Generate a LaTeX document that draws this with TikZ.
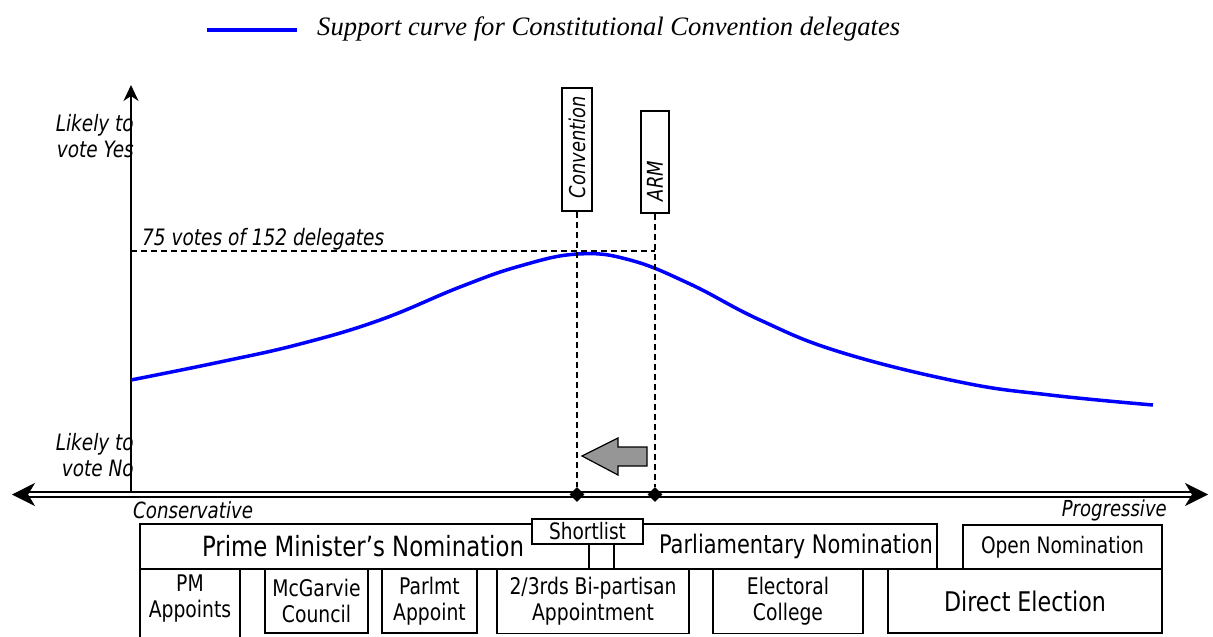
\documentclass[tikz,border=0pt]{standalone}
\usepackage{fontspec}
\setmainfont{DejaVu Sans}[FakeStretch=0.82]
\newfontfamily\tah{DejaVu Sans}[FakeStretch=0.82]
\newfontfamily\tms{Liberation Serif}
\usetikzlibrary{arrows.meta,shapes.geometric}
\definecolor{curveblue}{RGB}{0,0,255}
\definecolor{arrowgray}{RGB}{150,150,150}
\newlength\fwlen
\newcommand\fitw[2]{\settowidth\fwlen{\fontsize{10pt}{12pt}\selectfont #2}\pgfmathsetmacro\fwsz{10*#1/\fwlen}\pgfmathsetmacro\fwsk{1.15*\fwsz}\fontsize{\fwsz pt}{\fwsk pt}\selectfont}
\tikzset{
  bx/.style={draw, line width=1.8pt, inner sep=0pt, align=center},
  sbx/.style={bx, minimum height=64pt, font={\tah\fitw{167}{2/3rds Bi-partisan}}},
  bl/.style={line width=1.8pt},
  vbx/.style={draw, line width=1.8pt, rotate=90, anchor=west, inner ysep=0pt, align=left, font={\tah\itshape\fitw{102}{Convention}}},
  dsh/.style={line width=1.5pt, dash pattern=on 6pt off 4pt},
  curve/.style={line width=3.5pt, curveblue, line join=round},
  lbl/.style={inner sep=0pt},
  dmd/.style={diamond, fill=black, inner sep=0pt, minimum size=15pt},
  ax2/.style={line width=1.8pt, double, double distance=2.8pt,
    {Stealth[length=23pt,width=23pt,inset=7pt,line width=0.5pt]}-{Stealth[length=23pt,width=23pt,inset=7pt,line width=0.5pt]}},
}
\begin{document}
\begin{tikzpicture}[x=1pt,y=-1pt]
\useasboundingbox (0,0) rectangle (1213,637);
% legend
\coordinate (lg1) at (207,30);
\coordinate (lg2) at (297,30);
\draw[curve] (lg1) -- (lg2);
\node[lbl, anchor=base west, font={\tms\itshape\fitw{583}{Support curve for Constitutional Convention delegates}}] (leg) at (317,35) {Support curve for Constitutional Convention delegates};
% axes
\coordinate (vb) at (131,492);
\coordinate (vt) at (131,85);
\draw[line width=2pt, -{Stealth[length=16pt,width=15pt,inset=5pt]}] (vb) -- (vt);
\coordinate (axL) at (12,494.5);
\coordinate (axR) at (1208,494.5);
\draw[ax2] (axL) -- (axR);
% axis labels
\node[lbl, anchor=east, align=right, font={\tah\itshape\fitw{78}{Likely to}}] (yes) at (134,136) {Likely to\\vote Yes};
\node[lbl, anchor=east, align=right, font={\tah\itshape\fitw{78}{Likely to}}] (no) at (134,455) {Likely to\\vote No};
\node[lbl, anchor=west, font={\tah\itshape\fitw{120}{Conservative}}] (cons) at (133,510) {Conservative};
\node[lbl, anchor=east, font={\tah\itshape\fitw{105}{Progressive}}] (prog) at (1167,510) {Progressive};
% support curve
\draw[curve] plot[smooth, tension=0.7] coordinates {(131,380) (220,362) (300,344) (380,320) (460,287) (520,266) (578,254) (630,260) (690,284) (760,320) (840,352) (960,382) (1050,395) (1153,405)};
% threshold
\coordinate (hl) at (131,251);
\coordinate (hr) at (655,251);
\draw[dsh] (hl) -- (hr);
\node[lbl, anchor=base west, font={\tah\itshape\fitw{242}{75 votes of 152 delegates}}] (votes) at (142,245) {75 votes of 152 delegates};
% markers
\node[vbx, minimum height=30pt, text width=111pt, inner xsep=6pt] (conv) at (577,212) {\hspace*{7pt}Convention};
\node[vbx, minimum height=28pt, text width=90pt, inner xsep=6pt] (arm) at (655,214) {\hspace*{6pt}ARM};
\node[dmd] (d1) at (577,494.5) {};
\node[dmd] (d2) at (655,494.5) {};
\draw[dsh] (conv.west) -- (d1);
\draw[dsh] (arm.west) -- (d2);
% shift arrow
\draw[line width=1.2pt, fill=arrowgray, line join=miter] (582,456) -- (618,438) -- (618,447) -- (647,447) -- (647,466) -- (618,466) -- (618,475) -- cycle;
% top row boxes
\node[bx, minimum width=474pt, minimum height=45pt, font={\tah\fitw{322}{Prime Minister’s Nomination}}] (pmn) at (377,546.5) {Prime Minister’s Nomination\hspace*{28pt}};
\node[bx, minimum width=348pt, minimum height=45pt, font={\tah\fitw{274}{Parliamentary Nomination}}] (parl) at (763,546.5) {\hspace*{66pt}Parliamentary Nomination};
\node[bx, fill=white, minimum width=111pt, minimum height=25pt, font={\tah\fitw{77}{Shortlist}}] (short) at (587.5,531.5) {Shortlist};
\node[bx, minimum width=199pt, minimum height=44pt, font={\tah\fitw{163}{Open Nomination}}] (open) at (1062.5,547) {Open Nomination};
% bottom row boxes
\node[lbl, align=center, minimum width=100pt, minimum height=59pt, font={\tah\fitw{167}{2/3rds Bi-partisan}}] (pma) at (190,598.5) {PM\\Appoints};
\draw[bl] (pma.north west) -- ++(0,80);
\draw[bl] (pma.north east) -- ++(0,80);
\node[sbx, minimum width=103pt] (mcg) at (316.5,601) {McGarvie\\Council};
\node[sbx, minimum width=95pt] (parlmt) at (429.5,601) {Parlmt\\Appoint};
\node[sbx, minimum width=192pt] (two3) at (593,601.5) {2/3rds Bi-partisan\\Appointment};
\node[sbx, minimum width=150pt] (elect) at (788,601.5) {Electoral\\College};
\node[bx, minimum width=274pt, minimum height=64pt, font={\tah\fitw{162}{Direct Election}}] (direct) at (1025,601) {Direct Election};
\end{tikzpicture}
\end{document}
